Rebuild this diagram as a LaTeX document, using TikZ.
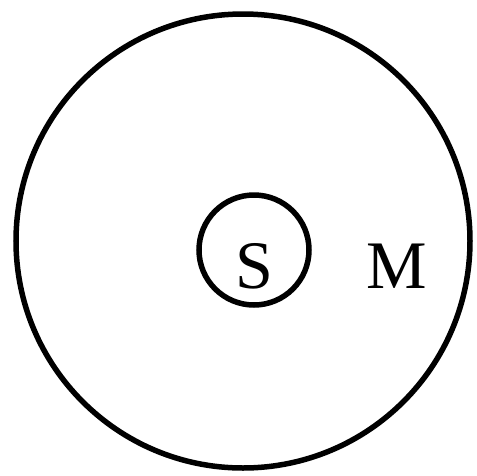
\documentclass[tikz,border=0pt]{standalone}
\usepackage{fontspec}
\setmainfont{Liberation Serif}
\usetikzlibrary{positioning}

\begin{document}
\begin{tikzpicture}[
  x=1pt, y=-1pt,
  ring/.style={draw=black, circle, line width=5.5pt, inner sep=0pt},
  lab/.style={font=\fontsize{68}{68}\selectfont, inner sep=0pt, anchor=base},
]
\useasboundingbox (0,0) rectangle (477,475);
% ---- outer set ----
\node[ring, minimum size=454pt] (outer) at (243,241) {};
% ---- inner set ----
\node[ring, minimum size=110pt] (inner) at (254,250) {};
% ---- labels ----
\node[lab] (s) at (254,288) {S};
\node[lab] (m) at (397,288) {M};
\end{tikzpicture}
\end{document}
